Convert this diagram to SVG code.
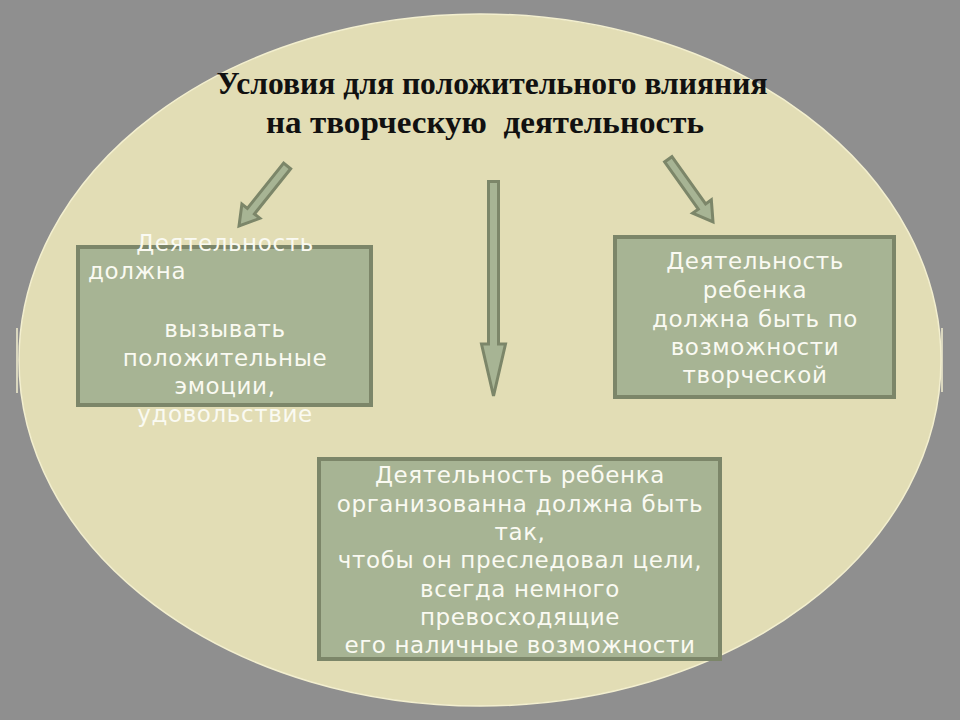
<svg xmlns="http://www.w3.org/2000/svg" width="960" height="720" viewBox="0 0 960 720">
  <style>
    .box { fill: #A7B494; stroke: #7C8669; stroke-width: 4; }
    .arrow { fill: #A7B494; stroke: #7C8669; stroke-width: 3; stroke-linejoin: miter; }
    .t { font-family: "DejaVu Sans", Verdana, sans-serif; font-size: 23px; fill: #FAFAF2; letter-spacing: 0.6px; text-anchor: middle; }
    .title { font-family: "Liberation Serif", "Times New Roman", serif; font-size: 31px; font-weight: bold; fill: #111111; text-anchor: middle; }
  </style>
  <rect x="0" y="0" width="960" height="720" fill="#8F8F8F"/>
  <ellipse cx="480" cy="360" rx="461" ry="346" fill="#E2DDB5" stroke="#F3EFCF" stroke-width="1.5"/>
  <line x1="17" y1="328" x2="17" y2="393" stroke="#F3EFCF" stroke-width="1.5"/>
  <line x1="942" y1="328" x2="942" y2="392" stroke="#F3EFCF" stroke-width="1.5"/>

  <g id="title">
    <text class="title" x="492" y="94" textLength="551" lengthAdjust="spacingAndGlyphs">Условия для положительного влияния</text>
    <text class="title" x="485" y="133" textLength="438" lengthAdjust="spacingAndGlyphs" xml:space="preserve">на творческую  деятельность</text>
  </g>

  <g id="connectors">
    <path class="arrow" transform="translate(239,226) rotate(128.7)" d="M-77,-4.5 L-19,-4.5 L-19,-11.5 L0,0 L-19,11.5 L-19,4.5 L-77,4.5 Z"/>
    <path class="arrow" transform="translate(713,222) rotate(54.5)" d="M-77,-4.5 L-19,-4.5 L-19,-11.5 L0,0 L-19,11.5 L-19,4.5 L-77,4.5 Z"/>
    <path class="arrow" d="M488.5,181.5 L498.5,181.5 L498.5,344 L505.5,344 L493.5,396 L481.5,344 L488.5,344 Z"/>
  </g>

  <g id="node-left">
    <rect class="box" x="78" y="247" width="293" height="158"/>
    <text class="t" x="225" y="251">Деятельность</text>
    <text class="t" x="88" y="279" style="text-anchor:start">должна</text>
    <text class="t" x="225" y="337">вызывать</text>
    <text class="t" x="225" y="366">положительные</text>
    <text class="t" x="225" y="394">эмоции,</text>
    <text class="t" x="225" y="422">удовольствие</text>
  </g>

  <g id="node-right">
    <rect class="box" x="615" y="237" width="279" height="160"/>
    <text class="t" x="755" y="269">Деятельность</text>
    <text class="t" x="755" y="298">ребенка</text>
    <text class="t" x="755" y="327">должна быть по</text>
    <text class="t" x="755" y="355">возможности</text>
    <text class="t" x="755" y="383">творческой</text>
  </g>

  <g id="node-bottom">
    <rect class="box" x="319" y="459" width="401" height="200"/>
    <text class="t" x="520" y="483">Деятельность ребенка</text>
    <text class="t" x="520" y="512">организованна должна быть</text>
    <text class="t" x="520" y="540">так,</text>
    <text class="t" x="520" y="568">чтобы он преследовал цели,</text>
    <text class="t" x="520" y="597">всегда немного</text>
    <text class="t" x="520" y="625">превосходящие</text>
    <text class="t" x="520" y="653">его наличные возможности</text>
  </g>
</svg>
